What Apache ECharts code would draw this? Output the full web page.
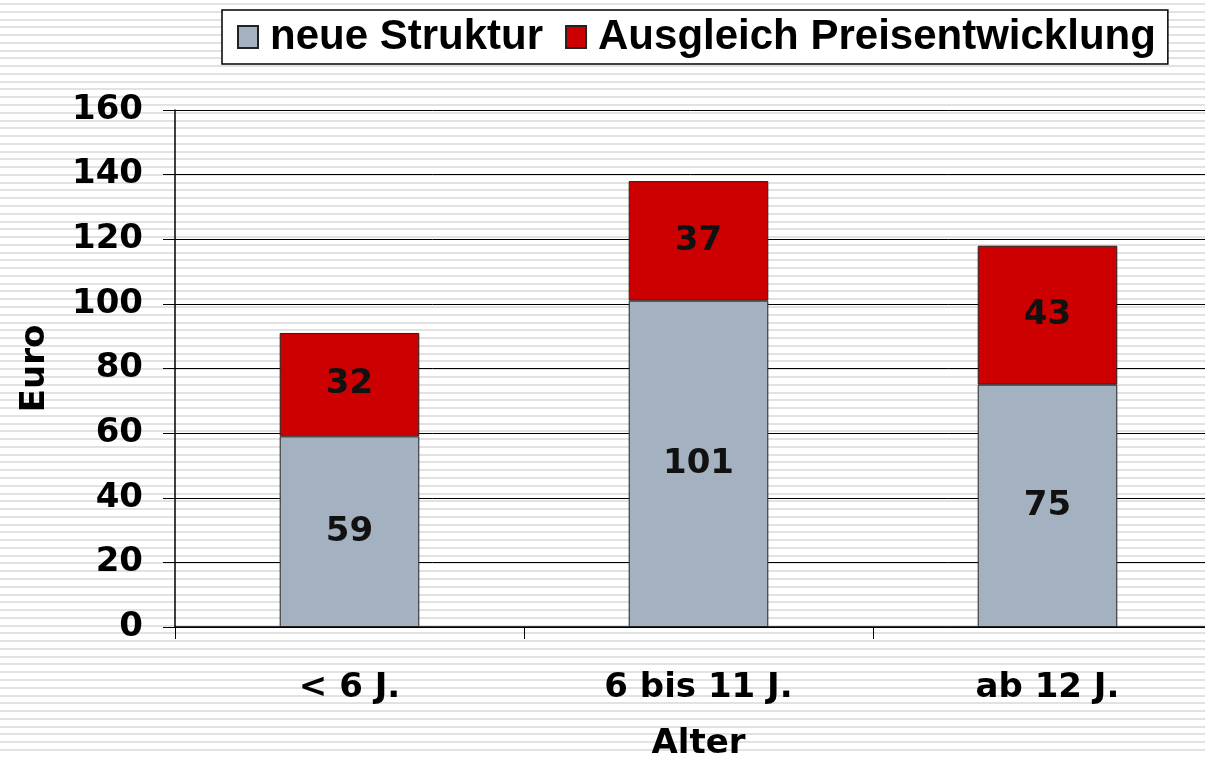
<!DOCTYPE html>
<html lang="de">
<head>
    <meta charset="UTF-8">
    <title>Euro nach Alter</title>
    <script type="text/javascript" src="https://cdn.jsdelivr.net/npm/echarts@6/dist/echarts.min.js"></script>
    <style type="text/css">
        html, body {
            margin: 0;
            padding: 0;
            width: 1205px;
            height: 757px;
            overflow: hidden;
            background-color: #ffffff;
            /* gestreifter Hintergrund wie auf der Folie */
            background-image: repeating-linear-gradient(to bottom,
                #ffffff 0px, #ffffff 3px, #e2e2e2 3px, #e2e2e2 5px, #ffffff 5px, #ffffff 7.77px);
        }
    </style>
</head>
<body>
<div id="main" style="width: 1205px;height: 757px;"></div>
<script type="text/javascript">
    // Daten
    var categories = ['< 6 J.', '6 bis 11 J.', 'ab 12 J.'];
    var neueStruktur = [59, 101, 75];
    var ausgleichPreis = [32, 37, 43];
    var seriesNames = ['neue Struktur', 'Ausgleich Preisentwicklung'];
    var yTicks = [0, 20, 40, 60, 80, 100, 120, 140, 160];

    var bigFont = '"DejaVu Sans", Verdana, sans-serif';
    var chart = echarts.init(document.getElementById('main'));

    chart.setOption({
        backgroundColor: 'transparent',
        animation: false,
        legend: {
            left: 222,
            top: 10,
            data: seriesNames,
            icon: 'rect',
            itemWidth: 20,
            itemHeight: 22,
            itemGap: 22,
            padding: [6, 12, 6, 15],
            backgroundColor: '#ffffff',
            borderColor: '#000000',
            borderWidth: 1.5,
            borderRadius: 0,
            textStyle: {
                fontFamily: '"Liberation Sans", Arial, sans-serif',
                fontWeight: 'bold',
                fontSize: 42,
                color: '#000000',
                lineHeight: 38,
                padding: [0, 0, 0, 7]
            }
        },
        grid: {
            left: 175,
            top: 110,
            bottom: 130,
            right: -17,
            outerBoundsMode: 'none'
        },
        xAxis: {
            type: 'category',
            data: categories,
            name: 'Alter',
            nameLocation: 'middle',
            nameGap: 100,
            nameTextStyle: {
                fontFamily: bigFont,
                fontWeight: 'bold',
                fontSize: 34,
                color: '#000000'
            },
            axisLine: {lineStyle: {color: '#000000', width: 1.5}},
            axisTick: {show: true, length: 12, lineStyle: {color: '#000000', width: 1}},
            axisLabel: {
                margin: 44,
                fontFamily: bigFont,
                fontWeight: 'bold',
                fontSize: 34,
                color: '#000000'
            }
        },
        yAxis: {
            type: 'value',
            min: yTicks[0],
            max: yTicks[yTicks.length - 1],
            interval: yTicks[1] - yTicks[0],
            name: 'Euro',
            nameLocation: 'middle',
            nameGap: 123,
            nameTextStyle: {
                fontFamily: bigFont,
                fontWeight: 'bold',
                fontSize: 34,
                color: '#000000'
            },
            axisLine: {show: true, lineStyle: {color: '#000000', width: 1.5}},
            axisTick: {show: true, length: 12, lineStyle: {color: '#000000', width: 1}},
            splitLine: {show: true, lineStyle: {color: '#000000', width: 1}},
            axisLabel: {
                margin: 32,
                fontFamily: bigFont,
                fontWeight: 'bold',
                fontSize: 34,
                color: '#000000'
            }
        },
        series: [
            {
                name: seriesNames[0],
                type: 'bar',
                stack: 'gesamt',
                barWidth: '40%',
                data: neueStruktur,
                itemStyle: {color: '#a3b1c0', borderColor: '#222222', borderWidth: 1},
                label: {
                    show: true,
                    position: 'inside',
                    fontFamily: bigFont,
                    fontWeight: 'bold',
                    fontSize: 34,
                    color: '#111111'
                }
            },
            {
                name: seriesNames[1],
                type: 'bar',
                stack: 'gesamt',
                barWidth: '40%',
                data: ausgleichPreis,
                itemStyle: {color: '#cc0000', borderColor: '#222222', borderWidth: 1},
                label: {
                    show: true,
                    position: 'inside',
                    fontFamily: bigFont,
                    fontWeight: 'bold',
                    fontSize: 34,
                    color: '#111111'
                }
            }
        ]
    });
</script>
</body>
</html>
